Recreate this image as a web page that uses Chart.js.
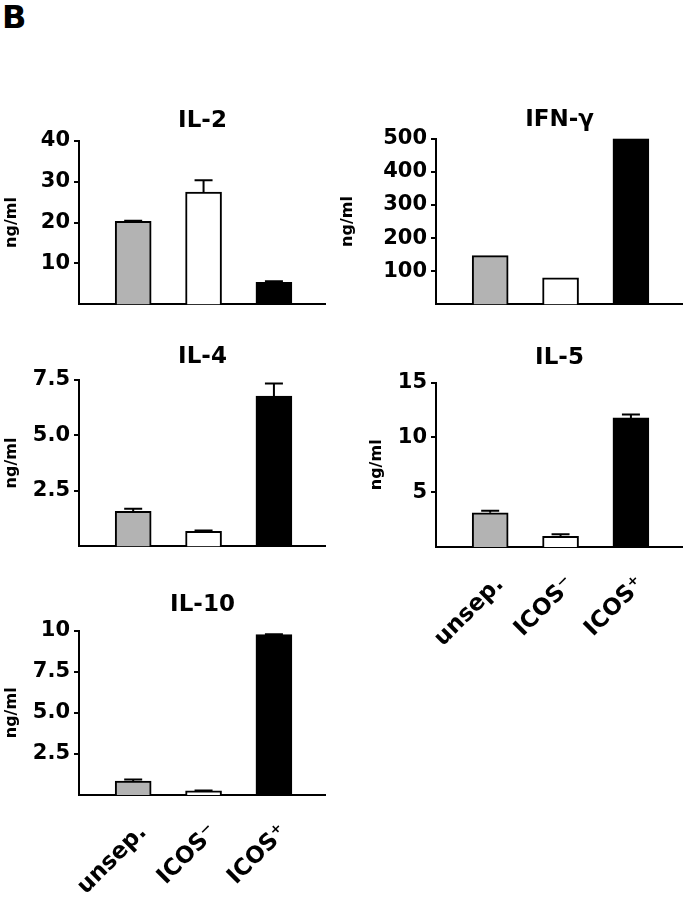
<!DOCTYPE html>
<html>
<head>
<meta charset="utf-8">
<script src="https://cdn.jsdelivr.net/npm/chart.js@4.4.0/dist/chart.umd.min.js"></script>
<style>
  body { margin: 0; background: #fff; width: 692px; height: 899px; position: relative; overflow: hidden; }
  canvas { position: absolute; }
  #panelLetter { position: absolute; left: 2px; top: 1px; font: bold 32px/32px "DejaVu Sans", sans-serif; color: #000; }
</style>
</head>
<body>
<div id="panelLetter">B</div>
<canvas id="il2Chart"></canvas>
<canvas id="ifnChart"></canvas>
<canvas id="il4Chart"></canvas>
<canvas id="il5Chart"></canvas>
<canvas id="il10Chart"></canvas>
<script>
// Datos
const groups = ["unsep.", "ICOS⁻", "ICOS⁺"];
const barColors = ["#b3b3b3", "#ffffff", "#000000"];

const il2Values = [20.3, 27.4, 5.4];
const il2Errors = [0.1, 2.9, 0.25];
const il2Ticks = [10, 20, 30, 40];
const il2TickLabels = ["10", "20", "30", "40"];

const ifnValues = [147, 80, 500];
const ifnErrors = [0, 0, 0];
const ifnTicks = [100, 200, 300, 400, 500];
const ifnTickLabels = ["100", "200", "300", "400", "500"];

const il4Values = [1.58, 0.68, 6.76];
const il4Errors = [0.11, 0.03, 0.57];
const il4Ticks = [2.5, 5, 7.5];
const il4TickLabels = ["2.5", "5.0", "7.5"];

const il5Values = [3.12, 0.98, 11.78];
const il5Errors = [0.18, 0.18, 0.3];
const il5Ticks = [5, 10, 15];
const il5TickLabels = ["5", "10", "15"];

const il10Values = [0.85, 0.26, 9.76];
const il10Errors = [0.1, 0.02, 0.02];
const il10Ticks = [2.5, 5, 7.5, 10];
const il10TickLabels = ["2.5", "5.0", "7.5", "10"];

Chart.defaults.font.family = '"DejaVu Sans", sans-serif';
Chart.defaults.color = "#000";

// error bars, upper whisker only
const errorBars = {
  id: "errorBars",
  afterDatasetsDraw(chart) {
    const ds = chart.data.datasets[0];
    const meta = chart.getDatasetMeta(0);
    const yScale = chart.scales.y;
    const ctx = chart.ctx;
    ctx.save();
    ctx.strokeStyle = "#000";
    ctx.lineWidth = 2;
    meta.data.forEach((bar, i) => {
      const err = ds.errors[i];
      if (!err) return;
      const top = yScale.getPixelForValue(ds.data[i].y + err);
      ctx.beginPath();
      ctx.moveTo(bar.x, bar.y);
      ctx.lineTo(bar.x, top);
      ctx.moveTo(bar.x - 9, top);
      ctx.lineTo(bar.x + 9, top);
      ctx.stroke();
    });
    ctx.restore();
  },
};

const makePanel = (id, title, values, errors, ticks, tickLabels, box) => {
  const canvas = document.getElementById(id);
  canvas.width = box.width;
  canvas.height = box.height;
  canvas.style.left = box.left + "px";
  canvas.style.top = box.top + "px";

  return new Chart(canvas, {
    type: "bar",
    data: {
      datasets: [
        {
          data: values.map((v, i) => ({ x: i + 1, y: v })),
          errors: errors,
          backgroundColor: barColors,
          borderColor: "#000",
          borderWidth: 2,
          barThickness: 36,
        },
      ],
    },
    options: {
      responsive: false,
      animation: false,
      devicePixelRatio: 1,
      layout: { padding: 0 },
      scales: {
        x: {
          type: "linear",
          offset: false,
          min: 0.23,
          max: 3.74,
          afterBuildTicks: (s) => {
            s.ticks = groups.map((g, i) => ({ value: i + 1 }));
          },
          afterFit: (s) => {
            s.height = box.xh;
          },
          ticks: {
            display: box.labels,
            autoSkip: false,
            minRotation: 45,
            maxRotation: 45,
            padding: 16,
            labelOffset: 10,
            color: "#000",
            font: { size: 23, weight: "bold" },
            callback: (v) => groups[v - 1],
          },
          grid: { display: false, offset: false },
          border: { display: true, color: "#000", width: 2 },
        },
        y: {
          min: 0,
          max: ticks[ticks.length - 1],
          afterBuildTicks: (s) => {
            s.ticks = ticks.map((v) => ({ value: v }));
          },
          afterFit: (s) => {
            s.width = box.yWidth;
          },
          ticks: {
            color: "#000",
            padding: 4,
            font: { size: 21, weight: "bold" },
            callback: (v, i) => tickLabels[i],
          },
          grid: {
            drawOnChartArea: false,
            drawTicks: true,
            tickLength: 5,
            color: "#000",
            lineWidth: 2,
          },
          border: { color: "#000", width: 2 },
          title: {
            display: true,
            text: "ng/ml",
            color: "#000",
            font: { size: 16, weight: "bold" },
            padding: { top: box.ylabelPad, bottom: 0 },
          },
        },
      },
      plugins: {
        legend: { display: false },
        tooltip: { enabled: false },
        title: {
          display: true,
          text: title,
          fullSize: false,
          color: "#000",
          font: { size: 23, weight: "bold" },
          padding: { top: 4, bottom: box.tb },
        },
      },
    },
    plugins: [errorBars],
  });
};

makePanel("il2Chart", "IL-2", il2Values, il2Errors, il2Ticks, il2TickLabels,
  { left: 0, top: 103, width: 326, height: 218, yWidth: 79, ylabelPad: 2.4, tb: 6, xh: 16, labels: false });
makePanel("ifnChart", "IFN-γ", ifnValues, ifnErrors, ifnTicks, ifnTickLabels,
  { left: 330, top: 102, width: 353, height: 219, yWidth: 106, ylabelPad: 8.4, tb: 5, xh: 16, labels: false });
makePanel("il4Chart", "IL-4", il4Values, il4Errors, il4Ticks, il4TickLabels,
  { left: 0, top: 339, width: 326, height: 224, yWidth: 79, ylabelPad: 2.4, tb: 9, xh: 16, labels: false });
makePanel("il5Chart", "IL-5", il5Values, il5Errors, il5Ticks, il5TickLabels,
  { left: 330, top: 340, width: 353, height: 307, yWidth: 106, ylabelPad: 37.4, tb: 11, xh: 100, labels: true });
makePanel("il10Chart", "IL-10", il10Values, il10Errors, il10Ticks, il10TickLabels,
  { left: 0, top: 587, width: 326, height: 308, yWidth: 79, ylabelPad: 2.4, tb: 12, xh: 100, labels: true });
</script>
</body>
</html>
